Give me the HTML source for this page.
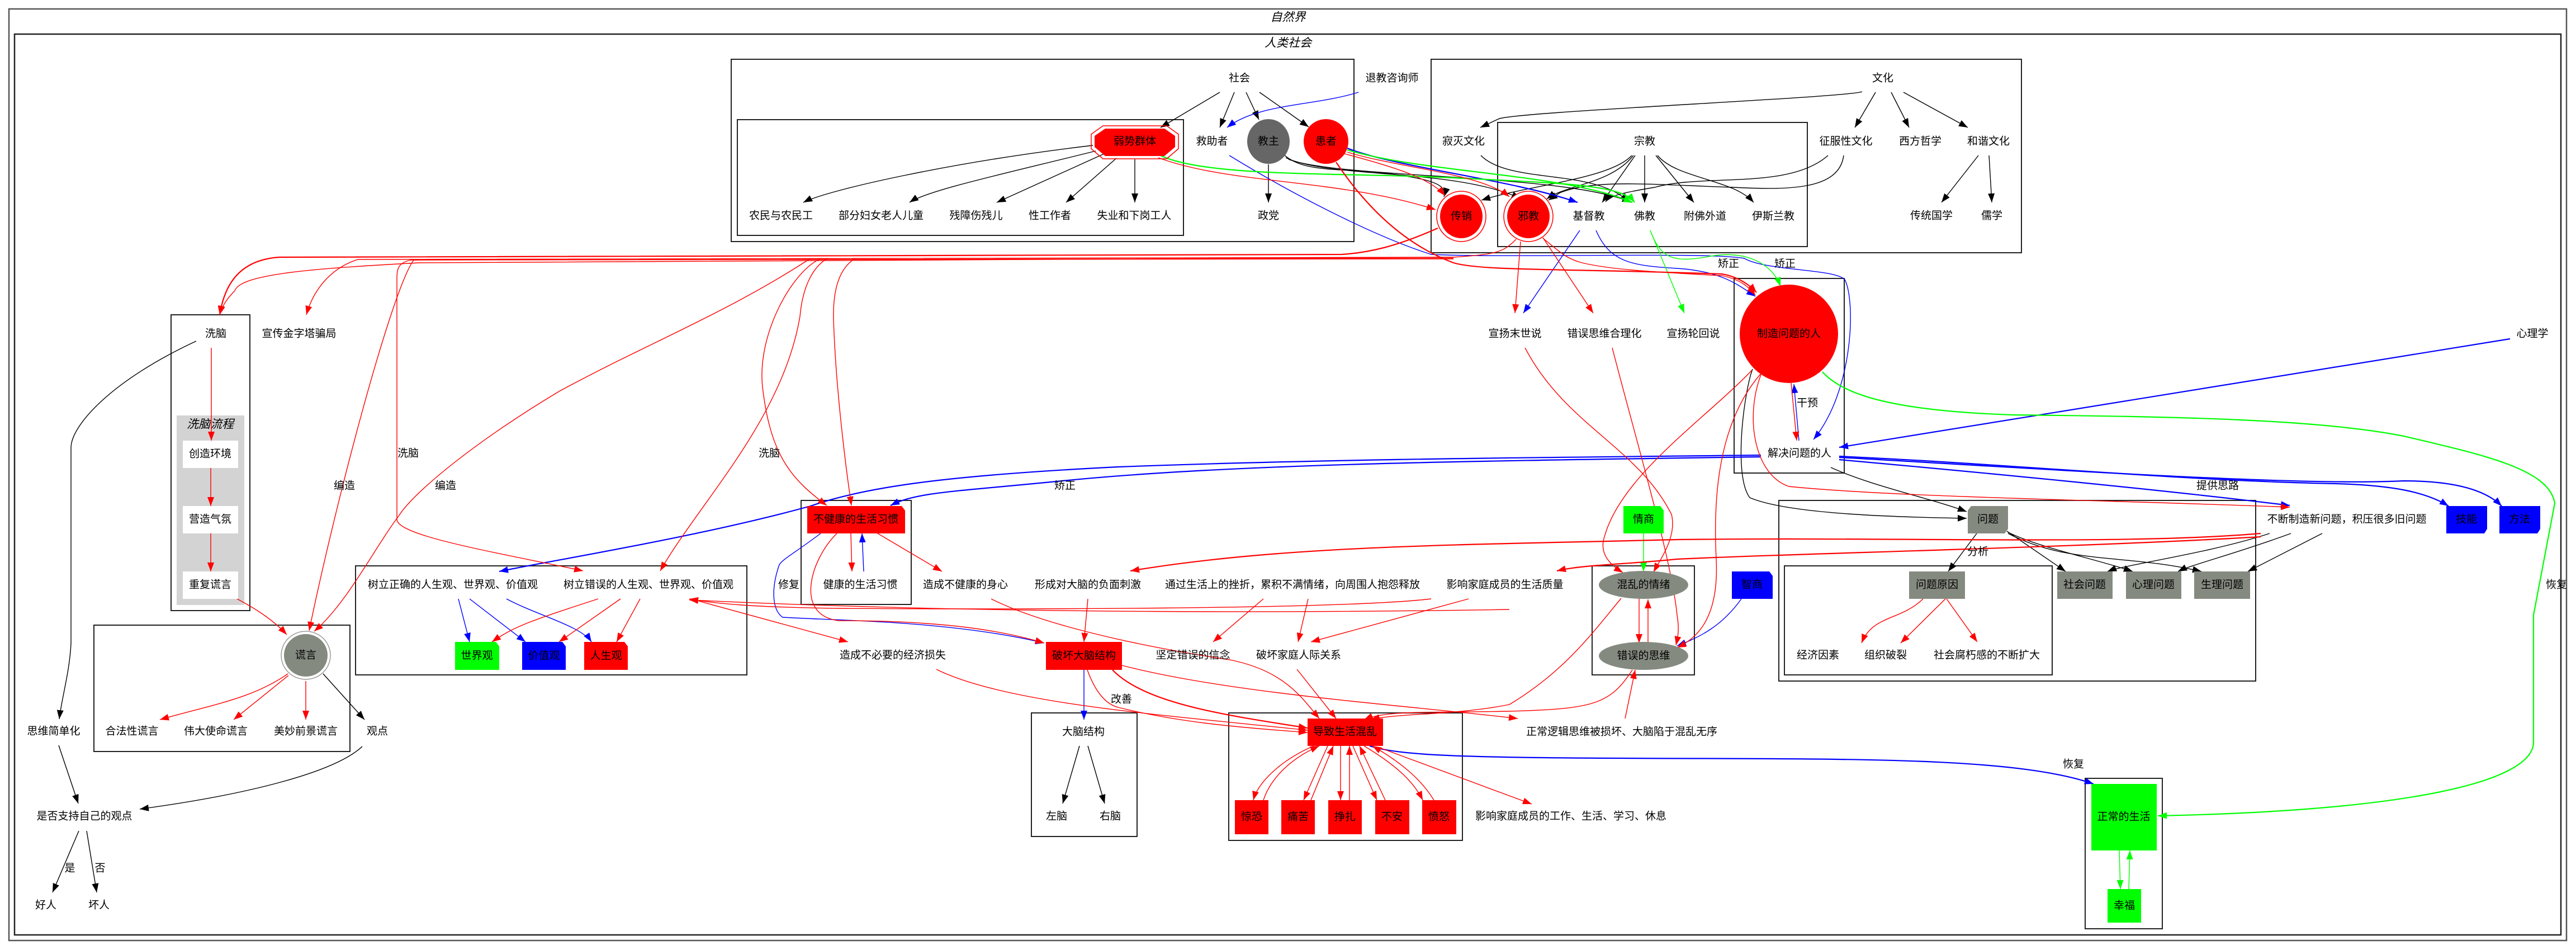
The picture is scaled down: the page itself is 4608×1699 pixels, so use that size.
<!DOCTYPE html>
<html><head><meta charset="utf-8">
<style>
html,body{margin:0;padding:0;background:#fff;}
svg{display:block;}
text{font-family:"Liberation Sans","Noto Sans CJK SC",sans-serif;font-size:19px;text-anchor:middle;dominant-baseline:central;fill:#000;}
.it{font-style:italic;font-size:21px;}
.cl{fill:none;stroke:#222;stroke-width:2;}
.e{fill:none;stroke-width:1.4;}
.k{stroke:#000;}
.r{stroke:#f00;}
.b{stroke:#00f;}
.g{stroke:#0f0;}
.t{stroke-width:2.2;}
</style></head><body>
<svg width="4608" height="1699" viewBox="0 0 4608 1699" xmlns="http://www.w3.org/2000/svg">
<defs>
<marker id="ak" markerUnits="userSpaceOnUse" markerWidth="18" markerHeight="12" refX="16" refY="6" orient="auto"><path d="M0,0 L16,6 L0,12 z" fill="#000"/></marker>
<marker id="ar" markerUnits="userSpaceOnUse" markerWidth="18" markerHeight="12" refX="16" refY="6" orient="auto"><path d="M0,0 L16,6 L0,12 z" fill="#f00"/></marker>
<marker id="ab" markerUnits="userSpaceOnUse" markerWidth="18" markerHeight="12" refX="16" refY="6" orient="auto"><path d="M0,0 L16,6 L0,12 z" fill="#00f"/></marker>
<marker id="ag" markerUnits="userSpaceOnUse" markerWidth="18" markerHeight="12" refX="16" refY="6" orient="auto"><path d="M0,0 L16,6 L0,12 z" fill="#0f0"/></marker>
</defs>
<rect width="4608" height="1699" fill="#fff"/>
<rect x="16" y="16" width="4575" height="1666" fill="none" stroke="#555" stroke-width="2.5"/>
<text class="it" x="2304" y="31">自然界</text>
<rect x="26" y="61" width="4555" height="1611" fill="none" stroke="#222" stroke-width="2.5"/>
<text class="it" x="2304" y="77">人类社会</text>

<rect class="cl" x="1308" y="106" width="1114" height="326"/>
<rect class="cl" x="1319" y="214" width="798" height="207"/>
<rect class="cl" x="2560" y="106" width="1056" height="346"/>
<rect class="cl" x="2679" y="219" width="554" height="222"/>
<rect class="cl" x="306" y="563" width="141" height="529"/>
<rect x="316" y="743" width="121" height="339" fill="#d3d3d3"/>
<text class="it" x="376" y="759">洗脑流程</text>
<rect class="cl" x="3102" y="498" width="197" height="348"/>
<rect class="cl" x="636" y="1012" width="700" height="195"/>
<rect class="cl" x="1433" y="895" width="197" height="186"/>
<rect class="cl" x="2848" y="1012" width="183" height="195"/>
<rect class="cl" x="3182" y="895" width="853" height="323"/>
<rect class="cl" x="3192" y="1012" width="479" height="195"/>
<rect class="cl" x="168" y="1118" width="458" height="226"/>
<rect class="cl" x="1845" y="1275" width="189" height="221"/>
<rect class="cl" x="2198" y="1275" width="418" height="228"/>
<rect class="cl" x="3730" y="1392" width="138" height="269"/>

<g class="e k" marker-end="url(#ak)">
<path d="M2182,165 L2076,228"/>
<path d="M2208,165 L2182,228"/>
<path d="M2229,165 L2252,214"/>
<path d="M2253,165 L2341,227"/>
<path d="M1955,260 C1700,290 1480,340 1437,362"/>
<path d="M1960,270 C1800,310 1660,340 1627,362"/>
<path d="M1975,275 L1783,362"/>
<path d="M1997,283 L1907,362"/>
<path d="M2030,285 L2030,362"/>
<path d="M2269,294 L2269,362"/>
<path d="M3331,164 C3300,175 2700,200 2680,213 L2648,228"/>
<path d="M3355,165 L3318,228"/>
<path d="M3383,165 L3415,228"/>
<path d="M3405,165 L3520,228"/>
<path d="M3539,278 L3473,362"/>
<path d="M3558,278 L3563,362"/>
<path d="M2919,278 C2880,320 2740,330 2650,358"/>
<path d="M2922,278 C2880,330 2800,330 2767,356"/>
<path d="M2925,278 L2866,362"/>
<path d="M2942,278 L2942,362"/>
<path d="M2962,278 L3030,362"/>
<path d="M2965,278 C3000,320 3100,320 3137,362"/>
<path d="M2649,278 C2700,330 2850,300 2914,361"/>
<path d="M3270,278 C3200,340 3050,310 2960,335 C2900,345 2880,350 2872,361"/>
<path d="M3298,278 C3290,340 3200,340 3100,335 C2950,330 2850,320 2790,345 L2770,358"/>
<path d="M2295,275 C2330,310 2400,300 2480,310 C2560,320 2590,330 2583,352"/>
<path d="M2300,282 C2380,320 2600,300 2720,355"/>
<path d="M2305,285 C2400,320 2800,310 2918,362"/>
<path d="M3275,836 C3350,870 3450,890 3518,915"/>
<path d="M3135,660 C3120,700 3100,850 3130,890 C3200,920 3400,925 3518,927"/>
<path d="M3536,954 L3485,1022"/>
<path d="M3590,950 L3695,1022"/>
<path d="M3592,952 C3650,980 3750,1000 3815,1022"/>
<path d="M3592,954 C3700,1010 3800,990 3938,1022"/>
<path d="M4060,954 C3950,990 3800,1010 3770,1022"/>
<path d="M4098,954 C4000,990 3920,1010 3896,1022"/>
<path d="M4154,954 L4021,1022"/>
<path d="M578,1205 L652,1287"/>
<path d="M351,610 C200,680 128,760 127,800 L127,1150 C125,1200 110,1250 106,1286"/>
<path d="M105,1333 L140,1437"/>
<path d="M648,1335 C600,1380 450,1420 250,1447"/>
<path d="M141,1486 L94,1596"/>
<path d="M155,1486 L173,1596"/>
<path d="M1931,1334 L1901,1437"/>
<path d="M1946,1334 L1976,1437"/>
</g>

<g class="e b" marker-end="url(#ab)">
<path d="M2430,165 C2350,190 2250,185 2195,228"/>
<path d="M2199,278 C2300,340 2450,420 2560,455 C2700,462 3050,450 3120,462 C3160,485 3280,480 3300,500 C3320,540 3315,700 3244,786"/>
<path class="t" d="M2410,265 C2500,300 2700,320 2822,362"/>
<path d="M2826,412 L2725,560"/>
<path d="M2855,412 C2880,470 2920,475 3000,480 C3080,485 3110,510 3140,530"/>
<path d="M3218,788 L3209,687"/>
<path class="t" d="M4490,606 L3290,800"/>
<path class="t" d="M3150,814 C2800,818 2400,820 2000,835 C1700,850 1550,870 1450,905 C1250,960 1000,1000 893,1022"/>
<path class="t" d="M3150,817 C2600,825 2200,830 1900,860 C1700,880 1640,880 1593,904"/>
<path class="t" d="M3290,816 C3600,830 3900,860 4180,865 C4280,868 4340,880 4380,905"/>
<path class="t" d="M3290,818 C3600,835 4100,870 4300,860 C4400,860 4450,880 4475,905"/>
<path class="t" d="M3290,822 C3600,850 3900,880 4096,904"/>
<path d="M820,1071 L840,1148"/>
<path d="M840,1071 L940,1148"/>
<path d="M906,1071 C960,1100 1040,1120 1058,1148"/>
<path d="M1545,1022 L1542,954"/>
<path d="M1468,954 C1420,990 1400,1000 1394,1010 C1380,1050 1380,1090 1400,1104 C1500,1110 1700,1110 1868,1150"/>
<path d="M3115,1071 C3080,1120 3040,1140 3000,1155"/>
<path d="M1939,1198 L1939,1287"/>
<path class="t" d="M2450,1334 C2500,1350 2600,1355 2900,1356 C3300,1358 3600,1352 3745,1402"/>
</g>

<g class="e g" marker-end="url(#ag)">
<path class="t" d="M2410,268 C2550,310 2800,310 2920,362"/>
<path class="t" d="M2072,276 C2150,318 2400,308 2600,318 C2800,328 2900,330 2924,362"/>
<path d="M2952,412 L3013,560"/>
<path d="M2952,412 C2970,460 2990,470 3050,460 C3120,445 3170,470 3185,512"/>
<path class="t" d="M3260,665 C3300,710 3400,735 3600,742 C3900,745 4150,750 4300,780 C4450,815 4560,840 4570,900 L4532,1100 L4532,1327 C4532,1400 4300,1450 3860,1459"/>
<path d="M2940,954 L2940,1022"/>
<path d="M3791,1521 L3793,1590"/>
<path d="M3808,1590 L3810,1521"/>
</g>

<g class="e r" marker-end="url(#ar)">
<path d="M2072,282 C2200,330 2400,320 2568,375"/>
<path d="M2405,275 C2500,300 2560,320 2585,350"/>
<path d="M2410,272 C2500,300 2650,310 2700,352"/>
<path class="t" d="M2390,290 C2450,380 2520,440 2600,470 C2650,485 2800,480 3080,490 C3110,495 3130,510 3142,523"/>
<path d="M2760,426 C2790,450 2800,462 2830,470 C2880,482 2950,486 3080,493 C3115,500 3130,515 3140,528"/>
<path d="M2720,432 L2710,560"/>
<path d="M2760,425 L2850,560"/>
<path class="t" d="M2572,408 C2500,440 2450,452 2400,455 L500,460 C420,465 400,520 393,563"/>
<path d="M2712,428 C2690,450 2680,455 2600,460 L750,470 C560,480 430,490 420,520 C400,540 395,555 393,563"/>
<path d="M2600,460 L640,464 C590,480 560,520 548,563"/>
<path d="M2600,462 L740,465 C700,520 600,900 553,1128"/>
<path d="M1450,462 C1300,560 1152,617 1000,700 C850,790 740,880 713,923 C670,980 620,1080 562,1129"/>
<path d="M2600,463 L735,465 C712,470 710,480 710,500 L710,930 C715,960 900,990 1043,1021"/>
<path d="M1470,462 C1420,480 1350,600 1365,700 C1380,820 1420,860 1479,904"/>
<path d="M1530,462 C1500,480 1490,520 1491,570 C1495,700 1515,850 1523,904"/>
<path d="M1480,462 C1450,480 1435,520 1431,566 C1400,750 1250,900 1181,1021"/>
<path d="M3204,685 L3214,788"/>
<path d="M3150,670 C3120,750 3140,850 3200,870 C3400,890 3800,895 4096,907"/>
<path d="M2728,622 C2800,760 2930,800 2990,920 C3000,960 2970,1000 2958,1023"/>
<path d="M2884,622 C2930,800 2990,1000 3000,1100 C3005,1130 3000,1145 2998,1154"/>
<path d="M3134,662 C3050,750 2900,850 2870,960 C2860,990 2880,1010 2903,1024"/>
<path d="M3150,668 C3070,760 3065,900 3070,1000 C3075,1100 3040,1140 3000,1158"/>
<path class="t" d="M4044,954 C3800,975 3400,960 3000,965 C2600,975 2300,975 2022,1021"/>
<path class="t" d="M4044,960 C3700,980 3200,990 3000,1000 C2900,1010 2830,1010 2785,1021"/>
<path d="M2932,1070 L2932,1150"/>
<path d="M2948,1150 L2948,1072"/>
<path d="M2907,1285 L2925,1198"/>
<path d="M2900,1070 C2850,1130 2800,1200 2700,1260 C2600,1280 2500,1275 2452,1287"/>
<path d="M2920,1198 C2880,1260 2850,1268 2700,1272 C2560,1275 2480,1270 2440,1287"/>
<path d="M3440,1071 C3400,1110 3350,1100 3330,1150"/>
<path d="M3480,1071 L3400,1150"/>
<path d="M3482,1071 L3537,1148"/>
<path d="M1522,954 L1524,1022"/>
<path d="M1570,954 L1685,1022"/>
<path d="M1497,954 C1450,1000 1420,1100 1500,1110 C1700,1110 1800,1130 1868,1150"/>
<path d="M1250,1075 L1517,1148"/>
<path d="M2560,1071 C2400,1090 1800,1090 1500,1088 C1350,1086 1280,1080 1233,1071"/>
<path d="M2700,1090 C2400,1095 1800,1100 1233,1073"/>
<path d="M1773,1071 C1850,1110 2000,1150 2200,1180 C2300,1200 2330,1250 2360,1285"/>
<path d="M1946,1071 L1939,1148"/>
<path d="M2260,1071 L2170,1148"/>
<path d="M2340,1071 L2322,1148"/>
<path d="M2627,1071 L2345,1148"/>
<path d="M2320,1197 L2390,1285"/>
<path class="t" d="M1990,1198 C2050,1260 2200,1280 2339,1302"/>
<path d="M1675,1197 C1800,1260 2100,1280 2339,1306"/>
<path d="M2007,1190 C2200,1240 2500,1260 2715,1285"/>
<path d="M1945,1198 C1960,1240 1980,1260 2000,1265 C2100,1290 2200,1300 2339,1310"/>
<path d="M2470,1338 L2740,1438"/>
<path d="M2350,1334 C2290,1360 2250,1400 2242,1431"/>
<path d="M2260,1431 C2270,1400 2300,1360 2360,1334"/>
<path d="M2375,1334 L2332,1431"/>
<path d="M2345,1431 L2385,1334"/>
<path d="M2398,1334 L2398,1431"/>
<path d="M2414,1431 L2414,1334"/>
<path d="M2420,1334 L2463,1431"/>
<path d="M2478,1431 L2432,1334"/>
<path d="M2440,1334 C2500,1370 2530,1400 2545,1431"/>
<path d="M2565,1431 C2540,1390 2500,1360 2455,1334"/>
<path d="M378,622 L378,788"/>
<path d="M377,837 L377,905"/>
<path d="M377,954 L377,1022"/>
<path d="M424,1071 C460,1090 490,1110 513,1135"/>
<path d="M515,1205 C450,1250 380,1260 286,1287"/>
<path d="M516,1208 L418,1287"/>
<path d="M547,1218 L547,1287"/>
<path d="M1070,1071 C950,1110 920,1120 880,1148"/>
<path d="M1110,1071 L1000,1148"/>
<path d="M1145,1071 L1103,1148"/>
</g>

<text x="2217" y="140">社会</text>
<polygon points="1973,225 2087,225 2108,240 2108,266 2087,284 1973,284 1952,266 1952,240" fill="none" stroke="#f00" stroke-width="1.5"/>
<polygon points="1977,230 2083,230 2102,243 2102,263 2083,279 1977,279 1958,263 1958,243" fill="#f00"/>
<text x="2030" y="253">弱势群体</text>
<text x="2168" y="253">救助者</text>
<ellipse cx="2269" cy="253" rx="38" ry="40" fill="#666"/>
<text x="2269" y="253">教主</text>
<ellipse cx="2372" cy="253" rx="40" ry="40" fill="#f00"/>
<text x="2372" y="253">患者</text>
<text x="2490" y="140">退教咨询师</text>
<text x="2269" y="386">政党</text>
<text x="1397" y="386">农民与农民工</text>
<text x="1576" y="386">部分妇女老人儿童</text>
<text x="1746" y="386">残障伤残儿</text>
<text x="1878" y="386">性工作者</text>
<text x="2029" y="386">失业和下岗工人</text>

<text x="3368" y="140">文化</text>
<text x="2618" y="253">寂灭文化</text>
<text x="2942" y="253">宗教</text>
<text x="3302" y="253">征服性文化</text>
<text x="3435" y="253">西方哲学</text>
<text x="3557" y="253">和谐文化</text>
<text x="3455" y="386">传统国学</text>
<text x="3563" y="386">儒学</text>
<ellipse cx="2614" cy="387" rx="44" ry="45" fill="#fff" stroke="#f00" stroke-width="1.5"/>
<ellipse cx="2614" cy="387" rx="38" ry="39" fill="#f00"/>
<text x="2614" y="387">传销</text>
<ellipse cx="2734" cy="387" rx="44" ry="45" fill="#fff" stroke="#f00" stroke-width="1.5"/>
<ellipse cx="2734" cy="387" rx="38" ry="39" fill="#f00"/>
<text x="2734" y="387">邪教</text>
<text x="2842" y="387">基督教</text>
<text x="2942" y="387">佛教</text>
<text x="3050" y="387">附佛外道</text>
<text x="3172" y="387">伊斯兰教</text>

<text x="386" y="597">洗脑</text>
<text x="535" y="597">宣传金字塔骗局</text>
<text x="2710" y="597">宣扬末世说</text>
<text x="2870" y="597">错误思维合理化</text>
<text x="3029" y="597">宣扬轮回说</text>
<ellipse cx="3200" cy="597" rx="88" ry="88" fill="#f00"/>
<text x="3200" y="597">制造问题的人</text>
<text x="4530" y="597">心理学</text>
<text x="3219" y="811">解决问题的人</text>

<rect x="327" y="788" width="99" height="49" fill="#fff"/><text x="376" y="812">创造环境</text>
<rect x="327" y="905" width="99" height="49" fill="#fff"/><text x="376" y="929">营造气氛</text>
<rect x="327" y="1022" width="99" height="49" fill="#fff"/><text x="376" y="1046">重复谎言</text>

<text x="810" y="1046">树立正确的人生观、世界观、价值观</text>
<text x="1160" y="1046">树立错误的人生观、世界观、价值观</text>
<polygon points="814,1148 887,1148 893,1156 893,1198 814,1198" fill="#0f0"/><text x="853" y="1173">世界观</text>
<polygon points="934,1148 1006,1148 1012,1156 1012,1198 934,1198" fill="#00f"/><text x="973" y="1173">价值观</text>
<polygon points="1045,1148 1117,1148 1123,1156 1123,1198 1045,1198" fill="#f00"/><text x="1084" y="1173">人生观</text>

<polygon points="1444,905 1613,905 1619,913 1619,954 1444,954" fill="#f00"/><text x="1531" y="929">不健康的生活习惯</text>
<text x="1411" y="1046">修复</text>
<text x="1539" y="1046">健康的生活习惯</text>
<text x="1727" y="1046">造成不健康的身心</text>
<text x="1946" y="1046">形成对大脑的负面刺激</text>
<text x="2312" y="1046">通过生活上的挫折，累积不满情绪，向周围人抱怨释放</text>
<text x="2692" y="1046">影响家庭成员的生活质量</text>
<polygon points="2904,905 2970,905 2976,913 2976,954 2904,954" fill="#0f0"/><text x="2940" y="929">情商</text>
<ellipse cx="2940" cy="1046" rx="80" ry="25" fill="#858a80"/><text x="2940" y="1046">混乱的情绪</text>
<ellipse cx="2940" cy="1173" rx="80" ry="25" fill="#858a80"/><text x="2940" y="1173">错误的思维</text>
<polygon points="3098,1022 3165,1022 3171,1030 3171,1071 3098,1071" fill="#00f"/><text x="3134" y="1046">智商</text>

<polygon points="3526,905 3592,905 3592,946 3586,954 3520,954 3520,913" fill="#858a80"/><text x="3556" y="929">问题</text>
<polygon points="3415,1022 3515,1022 3515,1071 3415,1071" fill="#858a80"/><text x="3465" y="1046">问题原因</text>
<rect x="3680" y="1022" width="99" height="49" fill="#858a80"/><text x="3729" y="1046">社会问题</text>
<rect x="3803" y="1022" width="99" height="49" fill="#858a80"/><text x="3852" y="1046">心理问题</text>
<rect x="3925" y="1022" width="100" height="49" fill="#858a80"/><text x="3975" y="1046">生理问题</text>
<text x="4198" y="929">不断制造新问题，积压很多旧问题</text>
<polygon points="4376,905 4449,905 4449,946 4444,954 4376,954" fill="#00f"/><text x="4412" y="929">技能</text>
<polygon points="4471,905 4544,905 4544,946 4539,954 4471,954" fill="#00f"/><text x="4507" y="929">方法</text>
<text x="3252" y="1172">经济因素</text>
<text x="3373" y="1172">组织破裂</text>
<text x="3554" y="1172">社会腐朽感的不断扩大</text>

<ellipse cx="547" cy="1172" rx="44" ry="43" fill="#fff" stroke="#999" stroke-width="1.5"/>
<ellipse cx="547" cy="1172" rx="39" ry="38" fill="#858a80"/>
<text x="547" y="1172">谎言</text>
<text x="236" y="1308">合法性谎言</text>
<text x="386" y="1308">伟大使命谎言</text>
<text x="547" y="1308">美妙前景谎言</text>
<text x="675" y="1308">观点</text>
<text x="96" y="1308">思维简单化</text>
<text x="151" y="1460">是否支持自己的观点</text>
<text x="82" y="1619">好人</text>
<text x="177" y="1619">坏人</text>

<text x="1597" y="1172">造成不必要的经济损失</text>
<rect x="1871" y="1148" width="136" height="50" fill="#f00"/><text x="1939" y="1173">破坏大脑结构</text>
<text x="2134" y="1172">坚定错误的信念</text>
<text x="2323" y="1172">破坏家庭人际关系</text>
<text x="1938" y="1309">大脑结构</text>
<text x="1890" y="1460">左脑</text>
<text x="1986" y="1460">右脑</text>
<rect x="2339" y="1285" width="135" height="49" fill="#f00"/><text x="2406" y="1309">导致生活混乱</text>
<rect x="2209" y="1431" width="60" height="61" fill="#f00"/><text x="2239" y="1461">惊恐</text>
<rect x="2292" y="1431" width="60" height="61" fill="#f00"/><text x="2322" y="1461">痛苦</text>
<rect x="2376" y="1431" width="60" height="61" fill="#f00"/><text x="2406" y="1461">挣扎</text>
<rect x="2460" y="1431" width="61" height="61" fill="#f00"/><text x="2490" y="1461">不安</text>
<rect x="2544" y="1431" width="61" height="61" fill="#f00"/><text x="2574" y="1461">愤怒</text>
<text x="2901" y="1309">正常逻辑思维被损坏、大脑陷于混乱无序</text>
<text x="2810" y="1460">影响家庭成员的工作、生活、学习、休息</text>
<rect x="3741" y="1402" width="117" height="119" fill="#0f0"/><text x="3799" y="1461">正常的生活</text>
<rect x="3770" y="1590" width="60" height="60" fill="#0f0"/><text x="3800" y="1620">幸福</text>

<text x="616" y="869">编造</text>
<text x="730" y="811">洗脑</text>
<text x="797" y="869">编造</text>
<text x="1376" y="811">洗脑</text>
<text x="1905" y="869">矫正</text>
<text x="3092" y="472">矫正</text>
<text x="3193" y="472">矫正</text>
<text x="3233" y="721">干预</text>
<text x="3967" y="869">提供思路</text>
<text x="3538" y="987">分析</text>
<text x="4573" y="1046">恢复</text>
<text x="3709" y="1367">恢复</text>
<text x="2006" y="1251">改善</text>
<text x="125" y="1553">是</text>
<text x="179" y="1553">否</text>
</svg>
</body></html>
